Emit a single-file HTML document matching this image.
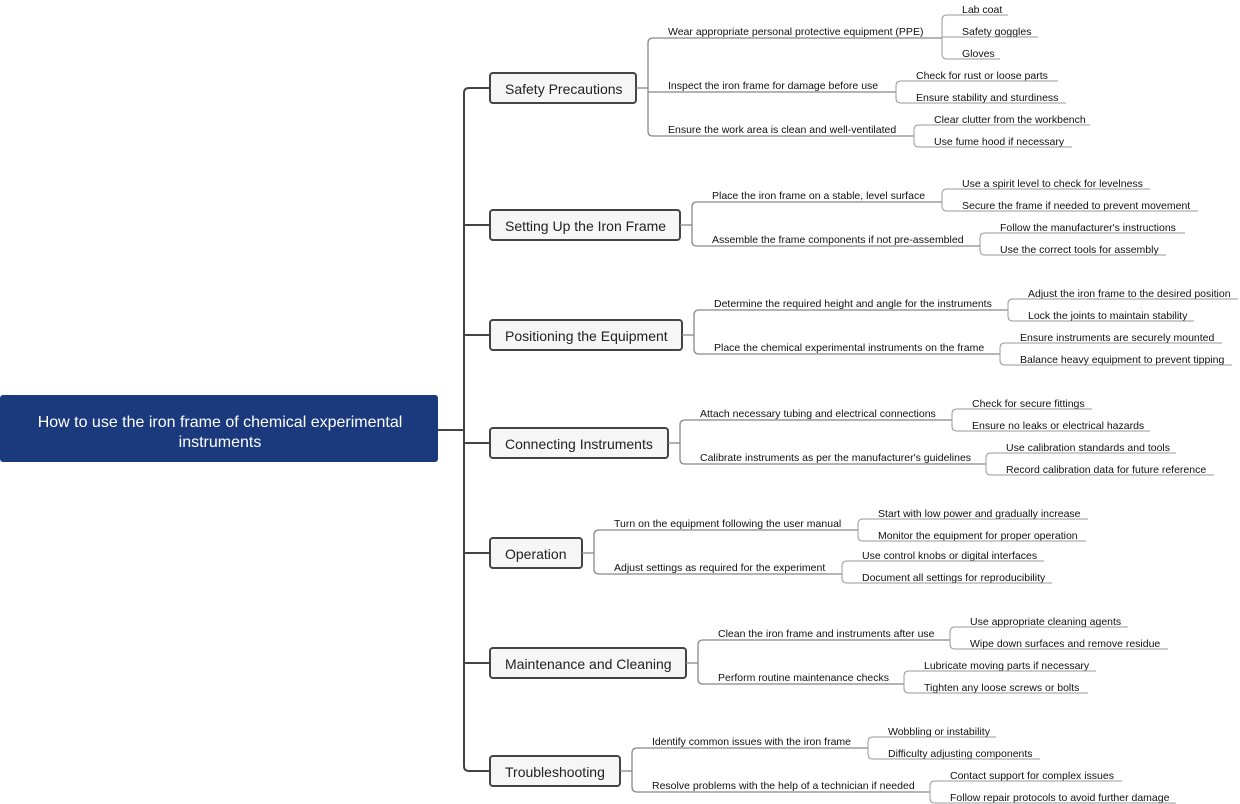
<!DOCTYPE html>
<html><head><meta charset="utf-8"><style>
html,body{margin:0;padding:0;background:#fff;}
svg{display:block;font-family:"Liberation Sans",Arial,sans-serif;}
</style></head><body>
<svg id="s" width="1240" height="804" viewBox="0 0 1240 804" xmlns="http://www.w3.org/2000/svg">
<rect x="0" y="395" width="438" height="67" rx="3" fill="#1b3a7d"/>
<text x="220" y="427" text-anchor="middle" font-size="16" fill="#fff">How to use the iron frame of chemical experimental</text>
<text x="220" y="447" text-anchor="middle" font-size="16" fill="#fff">instruments</text>
<line x1="438" y1="430" x2="464" y2="430" stroke="#444" stroke-width="2"/>
<g id="g"></g>
</svg>
<script>
var G=[
{t:"Safety Precautions",x2:636,cy:88,bx:648,c:[
 ["Wear appropriate personal protective equipment (PPE)",31,942,[["Lab coat",9,1008],["Safety goggles",31,1038],["Gloves",53,1000]]],
 ["Inspect the iron frame for damage before use",85,896,[["Check for rust or loose parts",75,1058],["Ensure stability and sturdiness",97,1066]]],
 ["Ensure the work area is clean and well-ventilated",129,914,[["Clear clutter from the workbench",119,1090],["Use fume hood if necessary",141,1072]]]]},
{t:"Setting Up the Iron Frame",x2:680,cy:225,bx:692,c:[
 ["Place the iron frame on a stable, level surface",195,942,[["Use a spirit level to check for levelness",183,1150],["Secure the frame if needed to prevent movement",205,1198]]],
 ["Assemble the frame components if not pre-assembled",239,980,[["Follow the manufacturer's instructions",227,1185],["Use the correct tools for assembly",249,1166]]]]},
{t:"Positioning the Equipment",x2:682,cy:335,bx:694,c:[
 ["Determine the required height and angle for the instruments",303,1008,[["Adjust the iron frame to the desired position",293,1238],["Lock the joints to maintain stability",315,1194]]],
 ["Place the chemical experimental instruments on the frame",347,1000,[["Ensure instruments are securely mounted",337,1222],["Balance heavy equipment to prevent tipping",359,1232]]]]},
{t:"Connecting Instruments",x2:668,cy:443,bx:680,c:[
 ["Attach necessary tubing and electrical connections",413,952,[["Check for secure fittings",403,1092],["Ensure no leaks or electrical hazards",425,1150]]],
 ["Calibrate instruments as per the manufacturer's guidelines",457,986,[["Use calibration standards and tools",447,1176],["Record calibration data for future reference",469,1214]]]]},
{t:"Operation",x2:582,cy:553,bx:594,c:[
 ["Turn on the equipment following the user manual",523,858,[["Start with low power and gradually increase",513,1088],["Monitor the equipment for proper operation",535,1086]]],
 ["Adjust settings as required for the experiment",567,842,[["Use control knobs or digital interfaces",555,1044],["Document all settings for reproducibility",577,1052]]]]},
{t:"Maintenance and Cleaning",x2:686,cy:663,bx:698,c:[
 ["Clean the iron frame and instruments after use",633,950,[["Use appropriate cleaning agents",621,1128],["Wipe down surfaces and remove residue",643,1168]]],
 ["Perform routine maintenance checks",677,904,[["Lubricate moving parts if necessary",665,1096],["Tighten any loose screws or bolts",687,1088]]]]},
{t:"Troubleshooting",x2:620,cy:771,bx:632,c:[
 ["Identify common issues with the iron frame",741,868,[["Wobbling or instability",731,996],["Difficulty adjusting components",753,1040]]],
 ["Resolve problems with the help of a technician if needed",785,930,[["Contact support for complex issues",775,1122],["Follow repair protocols to avoid further damage",797,1176]]]]}
];
var h='';
function P(d,c,w){h+='<path d="'+d+'" fill="none" stroke="'+c+'" stroke-width="'+w+'"/>';}
function T(x,y,s,f,c){h+='<text x="'+x+'" y="'+y+'" font-size="'+f+'" fill="'+(c||'#111')+'" dominant-baseline="central">'+s.replace(/&/g,'&amp;')+'</text>';}
var r=5;
P('M490 88 H'+(464+r)+' Q464 88 464 '+(88+r)+' V'+(771-r)+' Q464 771 '+(464+r)+' 771 H490','#444',2);
function bracket(px,py,bx,ys,ends,col,w){
 P('M'+px+' '+py+' H'+bx,col,w);
 var y0=ys[0],y1=ys[ys.length-1];
 P('M'+bx+' '+Math.min(py,y0+r)+' V'+Math.max(py,y1-r),col,w);
 for(var i=0;i<ys.length;i++){var y=ys[i];
  if(Math.abs(y-py)<r+1){P('M'+bx+' '+y+' H'+ends[i],col,w);}
  else{var s=y<py?1:-1;P('M'+bx+' '+(y+s*r)+' Q'+bx+' '+y+' '+(bx+r)+' '+y+' H'+ends[i],col,w);}
 }
}
G.forEach(function(g){
 if(g.cy!=88&&g.cy!=771) P('M464 '+g.cy+' H490','#444',2);
 h+='<rect x="490" y="'+(g.cy-15)+'" width="'+(g.x2-490)+'" height="30" rx="3" fill="#f6f6f6" stroke="#444" stroke-width="2"/>';
 T(505,g.cy+1,g.t,14,'#222');
 var ys=[],ends=[];
 g.c.forEach(function(c){ys.push(c[1]+7);ends.push(c[2]);});
 bracket(g.x2,g.cy,g.bx,ys,ends,'#888',1.3);
 g.c.forEach(function(c){
  T(g.bx+20,c[1]+1,c[0],10.5);
  var ly=c[1]+7,ys2=[],e2=[];
  c[3].forEach(function(k){ys2.push(k[1]+6);e2.push(k[2]);T(c[2]+20,k[1]+1,k[0],10.5);});
  bracket(c[2],ly,c[2],ys2,e2,'#999',1);
 });
});
document.getElementById('g').innerHTML=h;
</script>
</body></html>
